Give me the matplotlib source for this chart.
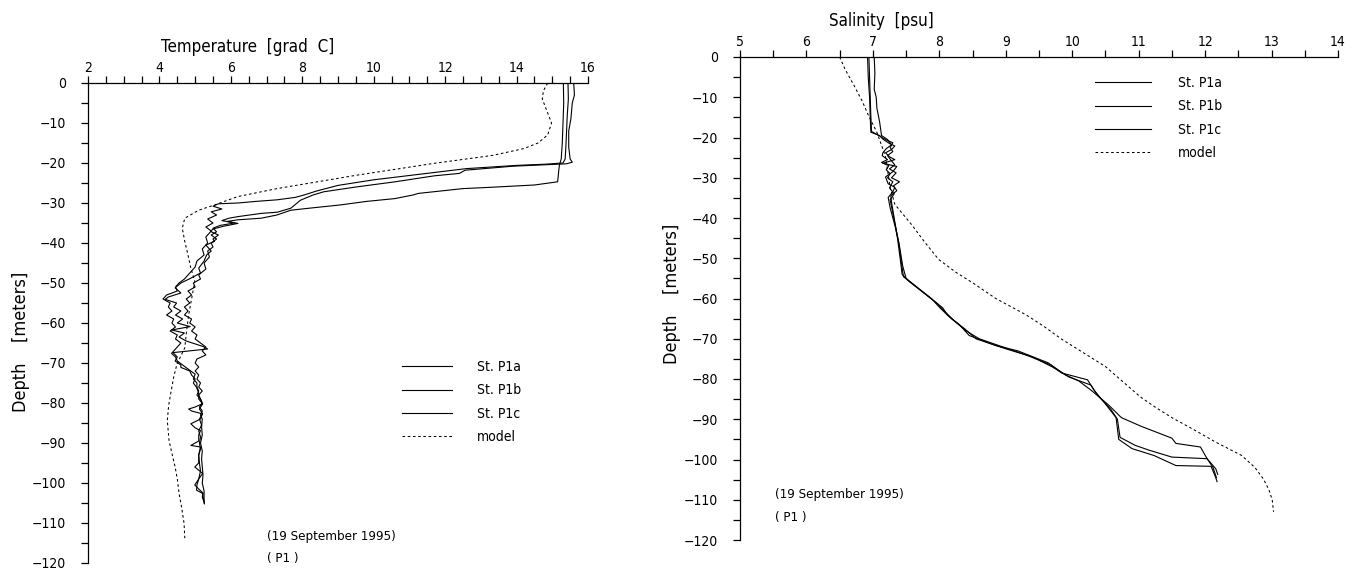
import numpy as np
import matplotlib.pyplot as plt

plt.rcParams["font.family"] = ["DejaVu Sans"]
plt.rcParams["font.stretch"] = "condensed"
plt.rcParams["font.size"] = 9

# temperature profiles, (depth [m], temperature [grad C])
temp_p1a = np.array([
    (0, 15.60), (-3, 15.62), (-5, 15.56), (-9, 15.52), (-12, 15.46), (-16, 15.46), (-19, 15.50),
    (-19.8, 15.56), (-20.2, 15.40), (-20.8, 13.90), (-21.8, 12.56), (-22.6, 12.40), (-23.2, 11.70),
    (-24.7, 10.60), (-26, 9.50), (-27.2, 8.60), (-28, 8.30), (-29.3, 7.95), (-31.3, 7.68), (-32.3, 7.30),
    (-32.6, 6.85), (-33.4, 6.20), (-33.8, 5.95), (-34.4, 5.75), (-35.0, 6.10), (-35.6, 5.70), (-36.3, 5.50),
    (-37.2, 5.60), (-38.0, 5.45), (-39.0, 5.60), (-40.0, 5.45), (-41.0, 5.50), (-42.0, 5.35), (-43.5, 5.40),
    (-45, 5.25), (-46.5, 5.30), (-48, 5.10), (-49, 5.15), (-50, 4.95), (-51, 5.00), (-52, 4.80), (-53, 4.90),
    (-54, 4.75), (-55, 4.85), (-56, 4.70), (-57, 4.80), (-58, 4.70), (-59, 4.90), (-60, 4.85), (-61, 5.00),
    (-62, 4.90), (-63, 5.05), (-64, 5.00), (-65, 5.15), (-66, 5.30), (-67, 5.20), (-68, 5.30), (-69, 5.05),
    (-70, 5.00), (-71, 5.10), (-72, 5.00), (-73, 5.10), (-74, 5.05), (-75, 5.15), (-76, 5.10), (-77, 5.20),
    (-78, 5.10), (-79, 5.15), (-80, 5.20), (-81, 5.12), (-82, 5.20), (-83, 5.15), (-84, 5.20), (-86, 5.18),
    (-88, 5.20), (-90, 5.15), (-92, 5.20), (-94, 5.18), (-96, 5.20), (-98, 5.22), (-100, 5.20),
    (-102, 5.25), (-104, 5.25), (-105.2, 5.26),
])
temp_p1b = np.array([
    (0, 15.44), (-4, 15.45), (-8, 15.42), (-12, 15.40), (-16, 15.38), (-19, 15.36), (-20.0, 15.30),
    (-20.3, 14.80), (-20.6, 14.00), (-21.4, 12.60), (-22.8, 11.30), (-24.2, 10.00), (-25.6, 9.00),
    (-27.0, 8.40), (-28.0, 8.05), (-28.6, 7.80), (-29.2, 7.30), (-29.6, 6.70), (-30.0, 6.20), (-30.2, 5.65),
    (-30.8, 5.50), (-31.5, 5.75), (-32.2, 5.45), (-33.0, 5.60), (-34.0, 5.35), (-35.0, 5.50), (-36.0, 5.30),
    (-37.0, 5.45), (-38.5, 5.30), (-40, 5.35), (-41.5, 5.20), (-43, 5.25), (-44.5, 5.05), (-46, 5.00),
    (-47.5, 4.85), (-49, 4.70), (-50, 4.55), (-51, 4.45), (-52, 4.50), (-53, 4.20), (-54, 4.10), (-55, 4.30),
    (-56, 4.25), (-57, 4.35), (-58, 4.20), (-59, 4.40), (-60, 4.35), (-61, 4.45), (-62, 4.30), (-63, 4.50),
    (-64, 4.45), (-65, 4.60), (-66, 4.50), (-67, 4.40), (-67.6, 4.34), (-68.5, 4.45), (-69.5, 4.50),
    (-70.5, 4.65), (-71.5, 4.80), (-72.8, 5.00), (-74, 4.95), (-75, 5.05), (-76, 5.05), (-77, 5.10),
    (-78, 5.05), (-79, 5.15), (-80.2, 5.20), (-81, 5.00), (-81.5, 4.82), (-82, 4.90), (-82.7, 5.20),
    (-84, 5.15), (-85.2, 4.88), (-86.2, 5.00), (-86.9, 5.15), (-88, 5.10), (-89.5, 5.10), (-90.6, 4.88),
    (-91, 5.15), (-93, 5.10), (-95, 5.10), (-96, 4.99), (-97.6, 5.21), (-99, 5.10), (-100.5, 5.05),
    (-101.8, 5.04), (-102.6, 5.21), (-104, 5.23), (-105, 5.25),
])
temp_p1c = np.array([
    (0, 15.31), (-5, 15.32), (-10, 15.30), (-15, 15.28), (-19, 15.25), (-20.5, 15.20), (-22, 15.18),
    (-24.7, 15.15), (-25.5, 14.50), (-26.1, 13.22), (-26.4, 12.50), (-27.6, 11.25), (-28.0, 11.10),
    (-28.9, 10.59), (-29.6, 9.80), (-30.5, 9.05), (-31.2, 8.30), (-31.8, 7.68), (-33.0, 7.29), (-33.8, 6.85),
    (-34.2, 6.20), (-34.6, 5.90), (-35.1, 6.20), (-35.8, 5.80), (-36.5, 5.50), (-37.1, 5.43), (-38, 5.65),
    (-39, 5.50), (-39.6, 5.54), (-40.5, 5.30), (-42, 5.45), (-43, 5.32), (-44.5, 5.25), (-46.3, 5.10),
    (-47.5, 5.15), (-48.8, 4.88), (-50, 4.60), (-51.2, 4.44), (-52.5, 4.60), (-53.5, 4.25), (-54.1, 4.16),
    (-55, 4.48), (-56, 4.40), (-57, 4.60), (-58, 4.45), (-59, 4.65), (-60, 4.50), (-60.9, 4.86),
    (-61.75, 4.34), (-62.5, 4.70), (-63.5, 4.55), (-64.5, 4.75), (-65.9, 5.23), (-66.5, 5.35), (-67.4, 4.38),
    (-68.5, 4.50), (-69.5, 4.44), (-70.5, 4.60), (-71.1, 4.60), (-72, 4.85), (-73, 4.90), (-74, 5.00),
    (-75, 4.95), (-76.1, 5.04), (-77.5, 5.10), (-79, 5.10), (-80.2, 5.21), (-81.5, 5.12), (-82.7, 5.21),
    (-84, 5.12), (-85.5, 5.18), (-87, 5.10), (-88.5, 5.15), (-90, 5.12), (-91.5, 5.15), (-93, 5.10),
    (-95, 5.12), (-97, 5.15), (-99, 5.10), (-100.5, 4.99), (-101.5, 5.10), (-102.5, 5.22), (-103.5, 5.20),
    (-104.5, 5.24),
])
temp_model = np.array([
    (0, 14.87), (-2, 14.75), (-4, 14.72), (-7, 14.85), (-10, 14.98), (-13, 14.87), (-15, 14.60),
    (-16.4, 14.20), (-18.1, 13.33), (-20.1, 11.68), (-23.1, 9.49), (-26.4, 7.29), (-28.4, 6.19),
    (-30.5, 5.54), (-31.8, 5.10), (-33.8, 4.71), (-36.3, 4.64), (-39.6, 4.71), (-43, 4.80), (-46.3, 4.88),
    (-49.6, 4.99), (-54, 4.90), (-57.9, 4.82), (-62, 4.76), (-66.2, 4.71), (-70.3, 4.49), (-73.5, 4.40),
    (-76.9, 4.33), (-80.5, 4.26), (-84.4, 4.22), (-89.4, 4.27), (-93, 4.36), (-96, 4.44), (-99, 4.50),
    (-102.6, 4.55), (-106, 4.62), (-110.1, 4.69), (-113.8, 4.71),
])

# salinity profiles, (depth [m], salinity [psu])
sal_p1a = np.array([
    (0, 6.92), (-5, 6.93), (-10, 6.95), (-15, 6.96), (-18.7, 6.97), (-19.5, 7.10), (-20.4, 7.15),
    (-21.5, 7.25), (-22.1, 7.33), (-23, 7.28), (-23.8, 7.19), (-24.8, 7.25), (-25.5, 7.33), (-26.4, 7.15),
    (-27.2, 7.36), (-28.5, 7.30), (-29.8, 7.19), (-31.5, 7.23), (-32.4, 7.33), (-33.5, 7.30), (-34.9, 7.23),
    (-37.5, 7.26), (-41.8, 7.33), (-46.1, 7.39), (-51.2, 7.43), (-54.6, 7.46), (-56.3, 7.59), (-58.9, 7.79),
    (-62.3, 8.05), (-64.1, 8.12), (-66.5, 8.30), (-69.2, 8.45), (-71.7, 8.85), (-73, 9.18), (-76, 9.64),
    (-78.5, 9.84), (-80.2, 10.23), (-82.8, 10.33), (-86.2, 10.50), (-89.6, 10.66), (-95, 10.70),
    (-97.3, 10.90), (-99, 11.23), (-101.5, 11.56), (-101.7, 12.09), (-104.5, 12.16), (-105.5, 12.18),
])
sal_p1b = np.array([
    (0, 6.94), (-5, 6.95), (-10, 6.96), (-15, 6.97), (-18.5, 6.98), (-19.8, 7.12), (-20.6, 7.20),
    (-21.3, 7.30), (-22.5, 7.26), (-23.5, 7.30), (-24.5, 7.22), (-25.8, 7.28), (-26.8, 7.33), (-27.8, 7.25),
    (-28.8, 7.35), (-30, 7.28), (-31, 7.40), (-32, 7.31), (-33.2, 7.36), (-34.5, 7.27), (-36, 7.28),
    (-40, 7.32), (-45, 7.37), (-50, 7.41), (-54, 7.44), (-55.8, 7.55), (-58, 7.72), (-61, 7.95),
    (-63.5, 8.10), (-65.5, 8.22), (-68, 8.40), (-70, 8.60), (-72, 8.95), (-74, 9.30), (-76.5, 9.68),
    (-79, 9.90), (-80.5, 10.10), (-83, 10.30), (-86.5, 10.55), (-89.6, 10.74), (-91.7, 11.03),
    (-94.7, 11.50), (-96, 11.56), (-96.9, 11.93), (-99.8, 12.03), (-102.3, 12.16), (-103.7, 12.19),
])
sal_p1c = np.array([
    (0, 7.02), (-4, 7.03), (-8, 7.02), (-10, 7.05), (-12.7, 7.06), (-16, 7.10), (-19.5, 7.13),
    (-20.5, 7.22), (-21.8, 7.28), (-22.8, 7.20), (-23.8, 7.15), (-24.5, 7.14), (-25.5, 7.22), (-26.2, 7.13),
    (-27, 7.24), (-28, 7.20), (-29, 7.26), (-30, 7.22), (-31, 7.30), (-32.5, 7.25), (-34, 7.32),
    (-35.5, 7.26), (-38, 7.29), (-42, 7.34), (-47, 7.40), (-52, 7.45), (-55, 7.50), (-57, 7.65),
    (-60, 7.88), (-62.5, 8.02), (-65, 8.18), (-67.5, 8.38), (-70, 8.55), (-72.5, 9.00), (-74.5, 9.40),
    (-77, 9.70), (-79.5, 9.95), (-81.5, 10.28), (-84, 10.38), (-87.5, 10.58), (-90, 10.68), (-94.5, 10.72),
    (-96.5, 10.95), (-97.7, 11.16), (-99.4, 11.50), (-99.8, 12.03), (-102, 12.12), (-104.5, 12.17),
])
sal_model = np.array([
    (0, 6.50), (-3, 6.58), (-7.5, 6.73), (-11, 6.84), (-14.4, 6.93), (-18.7, 7.06), (-24.7, 7.19),
    (-28, 7.22), (-32.4, 7.26), (-36.6, 7.33), (-39, 7.45), (-41.8, 7.59), (-46, 7.78), (-50.3, 7.99),
    (-53.5, 8.25), (-56.3, 8.52), (-60, 8.85), (-64.1, 9.31), (-67, 9.58), (-70.1, 9.84), (-73.5, 10.17),
    (-76.9, 10.50), (-80.5, 10.75), (-84.5, 11.03), (-87, 11.25), (-89.6, 11.50), (-92.5, 11.82),
    (-95.6, 12.15), (-99, 12.55), (-102, 12.75), (-104.9, 12.88), (-107.5, 12.96), (-110, 13.01),
    (-113, 13.03),
])

station_labels = ["St. P1a", "St. P1b", "St. P1c", "model"]
date_text = "(19 September 1995)"
site_text = "( P1 )"

fig = plt.figure(figsize=(13.53, 5.70), dpi=100)

W, H = 1353.0, 570.0
# axes boxes in pixels: left, right, top, bottom
ax_t = fig.add_axes([88 / W, 1 - 563 / H, (588 - 88) / W, (563 - 83) / H])
ax_s = fig.add_axes([740 / W, 1 - 540 / H, (1338 - 740) / W, (540 - 57) / H])


def style_axis(ax, xlim, xmajor, xminor, xlabel, xlabel_pos, ylabel_pos, ylabel_pad):
    ax.set_xlim(*xlim)
    ax.set_ylim(-120, 0)
    ax.spines["right"].set_visible(False)
    ax.spines["bottom"].set_visible(False)
    ax.spines["top"].set_linewidth(0.9)
    ax.spines["left"].set_linewidth(0.9)
    ax.xaxis.tick_top()
    ax.xaxis.set_label_position("top")
    ax.set_xticks(np.arange(xlim[0], xlim[1] + 0.01, xmajor))
    ax.set_xticks(np.arange(xlim[0], xlim[1] + 0.01, xminor), minor=True)
    ax.set_yticks(np.arange(-120, 1, 10))
    ax.set_yticks(np.arange(-120, 1, 5), minor=True)
    ax.tick_params(which="both", direction="out", length=5, width=0.9, labelsize=10)
    ax.tick_params(axis="x", pad=1)
    ax.tick_params(axis="y", pad=11)
    ax.set_xlabel(xlabel, fontsize=12.2, labelpad=6, x=xlabel_pos)
    ax.set_ylabel("Depth    [meters]", fontsize=13, labelpad=ylabel_pad, y=ylabel_pos)
    ax.patch.set_alpha(0)


style_axis(ax_t, (2, 16), 2, 0.5, "Temperature  [grad  C]", 0.45, 0.46, 1)
style_axis(ax_s, (5, 14), 1, 0.5, "Salinity  [psu]", 0.237, 0.51, 2)
ax_t.xaxis.label.set_x(0.32)

for ax, profiles, model in [
    (ax_t, [temp_p1a, temp_p1b, temp_p1c], temp_model),
    (ax_s, [sal_p1a, sal_p1b, sal_p1c], sal_model),
]:
    for prof, lab in zip(profiles, station_labels[:3]):
        ax.plot(prof[:, 1], prof[:, 0], color="black", lw=0.8, label=lab)
    ax.plot(model[:, 1], model[:, 0], color="black", lw=0.75, ls=(0, (2.5, 2.5)), label=station_labels[3])

ax_t.legend(loc="upper left", bbox_to_anchor=(402 / W, 1 - 360 / H), bbox_transform=fig.transFigure,
            frameon=False, borderpad=0, borderaxespad=0, handlelength=3.6, handletextpad=1.8,
            labelspacing=0.68, fontsize=10)
ax_s.legend(loc="upper left", bbox_to_anchor=(1095 / W, 1 - 76 / H), bbox_transform=fig.transFigure,
            frameon=False, borderpad=0, borderaxespad=0, handlelength=4.0, handletextpad=2.0,
            labelspacing=0.68, fontsize=10)

ax_t.text(7.0, -113.3, date_text, fontsize=9.5, va="center")
ax_t.text(7.0, -118.8, site_text, fontsize=9.5, va="center")
ax_s.text(5.53, -108.8, date_text, fontsize=9.5, va="center")
ax_s.text(5.53, -114.5, site_text, fontsize=9.5, va="center")

fig.savefig("out.png", dpi=100)
